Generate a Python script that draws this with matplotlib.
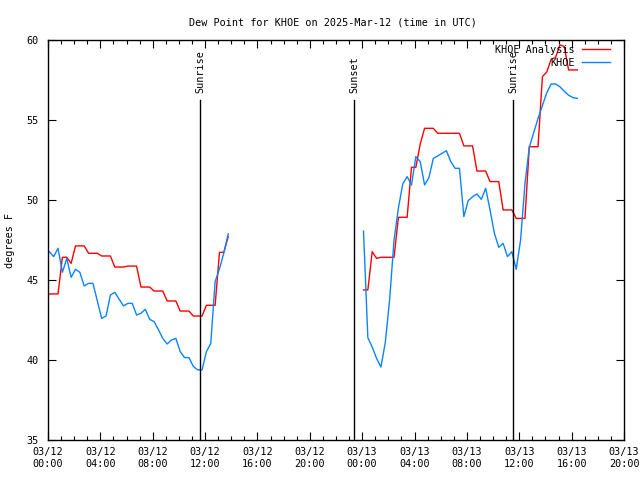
import matplotlib
matplotlib.use("Agg")
import matplotlib.pyplot as plt
from matplotlib.ticker import MultipleLocator
import numpy as np

# ---- data (hours since 2025-03-12 00:00 UTC) ----
day1_start = 0.1
day2_start = 24.1
step_h = 1.0 / 3.0  # 20-minute observations

obs_day1 = [46.77, 46.46, 46.98, 45.48, 46.35, 45.17, 45.67, 45.48, 44.63, 44.79,
            44.79, 43.70, 42.60, 42.75, 44.06, 44.23, 43.80, 43.38, 43.54, 43.54,
            42.81, 42.92, 43.17, 42.54, 42.40, 41.90, 41.35, 41.00, 41.25, 41.35,
            40.52, 40.15, 40.15, 39.60, 39.38, 39.38, 40.52, 41.04, 44.90, 45.70,
            46.70, 47.88]
ana_day1 = [44.13, 44.13, 44.13, 46.42, 46.42, 46.04, 47.13, 47.13, 47.13, 46.67,
            46.67, 46.67, 46.50, 46.50, 46.50, 45.81, 45.81, 45.81, 45.87, 45.87,
            45.87, 44.56, 44.56, 44.56, 44.31, 44.31, 44.31, 43.69, 43.69, 43.69,
            43.06, 43.06, 43.06, 42.75, 42.75, 42.75, 43.42, 43.42, 43.42, 46.73,
            46.73, 47.71]

obs_day2 = [48.06, 41.40, 40.80, 40.10, 39.56, 41.10, 43.80, 47.50, 49.50, 51.00,
            51.46, 50.94, 52.71, 52.40, 50.94, 51.40, 52.60, 52.75, 52.92, 53.08,
            52.40, 51.98, 51.98, 48.96, 49.96, 50.20, 50.38, 50.04, 50.73, 49.38,
            47.92, 47.04, 47.29, 46.46, 46.77, 45.67, 47.50, 51.00, 53.30, 54.20,
            55.10, 55.90, 56.70, 57.25, 57.25, 57.08, 56.80, 56.55, 56.40, 56.35]
ana_day2 = [44.38, 44.38, 46.77, 46.35, 46.42, 46.42, 46.42, 46.42, 48.92, 48.92,
            48.92, 52.04, 52.04, 53.50, 54.48, 54.48, 54.48, 54.17, 54.17, 54.17,
            54.17, 54.17, 54.17, 53.38, 53.38, 53.38, 51.81, 51.81, 51.81, 51.15,
            51.15, 51.15, 49.38, 49.38, 49.38, 48.85, 48.85, 48.85, 53.33, 53.33,
            53.33, 57.71, 58.00, 58.80, 58.90, 59.69, 59.60, 58.13, 58.13, 58.13]

event_names = ["Sunrise", "Sunset", "Sunrise"]
event_hours = [11.6, 23.37, 35.52]

tick_labels = ["03/12\n00:00", "03/12\n04:00", "03/12\n08:00", "03/12\n12:00",
               "03/12\n16:00", "03/12\n20:00", "03/13\n00:00", "03/13\n04:00",
               "03/13\n08:00", "03/13\n12:00", "03/13\n16:00", "03/13\n20:00"]

t1 = day1_start + step_h * np.arange(len(obs_day1))
t2 = day2_start + step_h * np.arange(len(obs_day2))

# gap between the two days
t_all = np.concatenate([t1, [np.nan], t2])
obs_all = np.concatenate([obs_day1, [np.nan], obs_day2])
ana_all = np.concatenate([ana_day1, [np.nan], ana_day2])

plt.rcParams['font.family'] = ['DejaVu Sans Mono']
fs = 7.3

fig = plt.figure(figsize=(6.4, 4.8), dpi=100)
ax = fig.add_axes([48/640, 40/480, 576/640, 400/480])

red = '#ff0000'
blue = '#0a84ff'
ax.plot(t_all, ana_all, color=red, lw=1.0, label="KHOE Analysis")
ax.plot(t_all, obs_all, color=blue, lw=1.0, label="KHOE")

for name, h in zip(event_names, event_hours):
    ax.plot([h, h], [35, 56.25], color='black', lw=1.0)
    ax.text(h + 0.05, 56.7, name, rotation=90, ha='center', va='bottom',
            fontsize=fs, color='black')

ax.set_xlim(0, 44)
ax.set_ylim(35, 60)
ax.set_xticks(np.arange(0, 45, 4))
ax.set_xticklabels(tick_labels)
ax.xaxis.set_minor_locator(MultipleLocator(1))
ax.set_yticks(np.arange(35, 61, 5))
ax.tick_params(axis='both', which='major', direction='in', length=6, width=0.8,
               top=True, right=True, labelsize=fs, colors='black')
ax.tick_params(axis='x', which='major', pad=5)
ax.tick_params(axis='y', which='major', pad=7)
ax.tick_params(axis='x', which='minor', direction='in', length=3, width=0.8,
               top=True)
for lab in ax.get_xticklabels():
    lab.set_linespacing(1.3)
for s in ax.spines.values():
    s.set_linewidth(1.0)

fig.text(10/640, 0.5, "degrees F", rotation=90, ha='center', va='center',
         fontsize=fs)
fig.text(332.5/640, 1 - 25.5/480, "Dew Point for KHOE on 2025-Mar-12 (time in UTC)",
         ha='center', va='baseline', fontsize=fs)

leg = ax.legend(loc='upper right', frameon=False, fontsize=fs, markerfirst=False,
                handlelength=2.72, handletextpad=0.7, borderaxespad=0.0,
                borderpad=0.0, labelspacing=0.25,
                bbox_to_anchor=(609.5/640, 1 - 45/480),
                bbox_transform=fig.transFigure)
for txt in leg.get_texts():
    txt.set_ha('right')
leg._legend_box.align = 'right'

fig.savefig("out.png", dpi=100)
